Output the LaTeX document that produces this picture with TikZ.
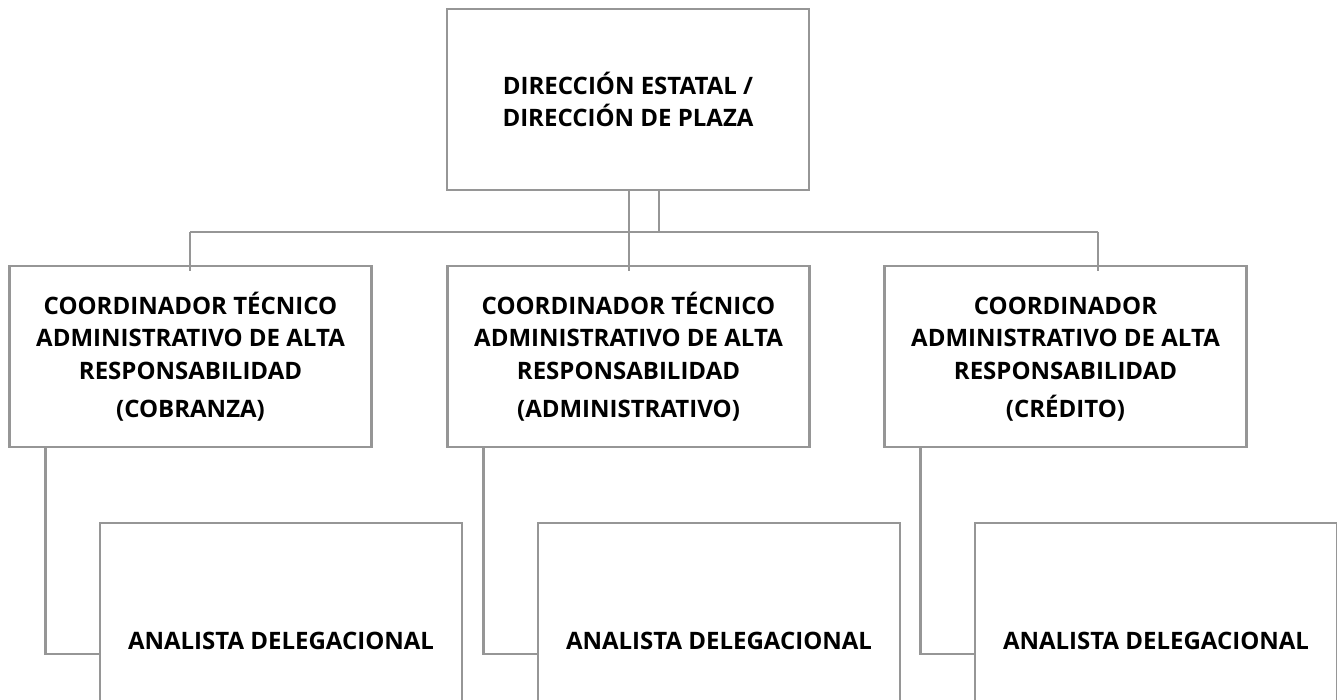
\documentclass[tikz,border=0pt]{standalone}
\usepackage{fontspec}
\setmainfont{Open Sans}
\definecolor{linegray}{RGB}{150,150,150}
\tikzset{
  box/.style={draw=linegray, line width=2.5pt, fill=white, inner sep=0pt,
    minimum width=362pt, minimum height=181pt, align=center,
    font=\fontsize{24}{32.5}\selectfont\bfseries},
  line/.style={draw=linegray, line width=2.5pt}
}
\begin{document}
\begin{tikzpicture}[x=1pt, y=-1pt]
    \useasboundingbox (0,0) rectangle (1337,700);
    % connectors first, boxes on top
    \coordinate (b1) at (190,232);
    \coordinate (b2) at (629,232);
    \coordinate (b3) at (1098,232);
    \node[box] (dir) at (628,99.5) {DIRECCIÓN ESTATAL /\\DIRECCIÓN DE PLAZA};
    \draw[line] (dir.south -| b2) -- (b2);
    \draw[line] ([xshift=30pt]dir.south -| b2) -- ([xshift=30pt]b2);
    \draw[line] (b1) -- (b3);
    \node[box] (c1) at (190.5,356.5) {COORDINADOR TÉCNICO\\ADMINISTRATIVO DE ALTA\\RESPONSABILIDAD\\[6pt](COBRANZA)};
    \node[box] (c2) at (628.5,356.5) {COORDINADOR TÉCNICO\\ADMINISTRATIVO DE ALTA\\RESPONSABILIDAD\\[6pt](ADMINISTRATIVO)};
    \node[box] (c3) at (1065.5,356.5) {COORDINADOR\vphantom{É}\\ADMINISTRATIVO DE ALTA\\RESPONSABILIDAD\\[6pt](CRÉDITO)};
    \foreach \b in {b1,b2,b3}
      \draw[line] (\b) -- ([yshift=-6pt]\b |- c1.north);
    \node[box, minimum height=236pt] (a1) at (281,641) {ANALISTA DELEGACIONAL};
    \node[box, minimum height=236pt] (a2) at (719,641) {ANALISTA DELEGACIONAL};
    \node[box, minimum height=236pt] (a3) at (1156,641) {ANALISTA DELEGACIONAL};
    \draw[line] ([xshift=37pt]c1.south west) |- ([yshift=-13pt]a1.west);
    \draw[line] ([xshift=37pt]c2.south west) |- ([yshift=-13pt]a2.west);
    \draw[line] ([xshift=37pt]c3.south west) |- ([yshift=-13pt]a3.west);
  \end{tikzpicture}
\end{document}
